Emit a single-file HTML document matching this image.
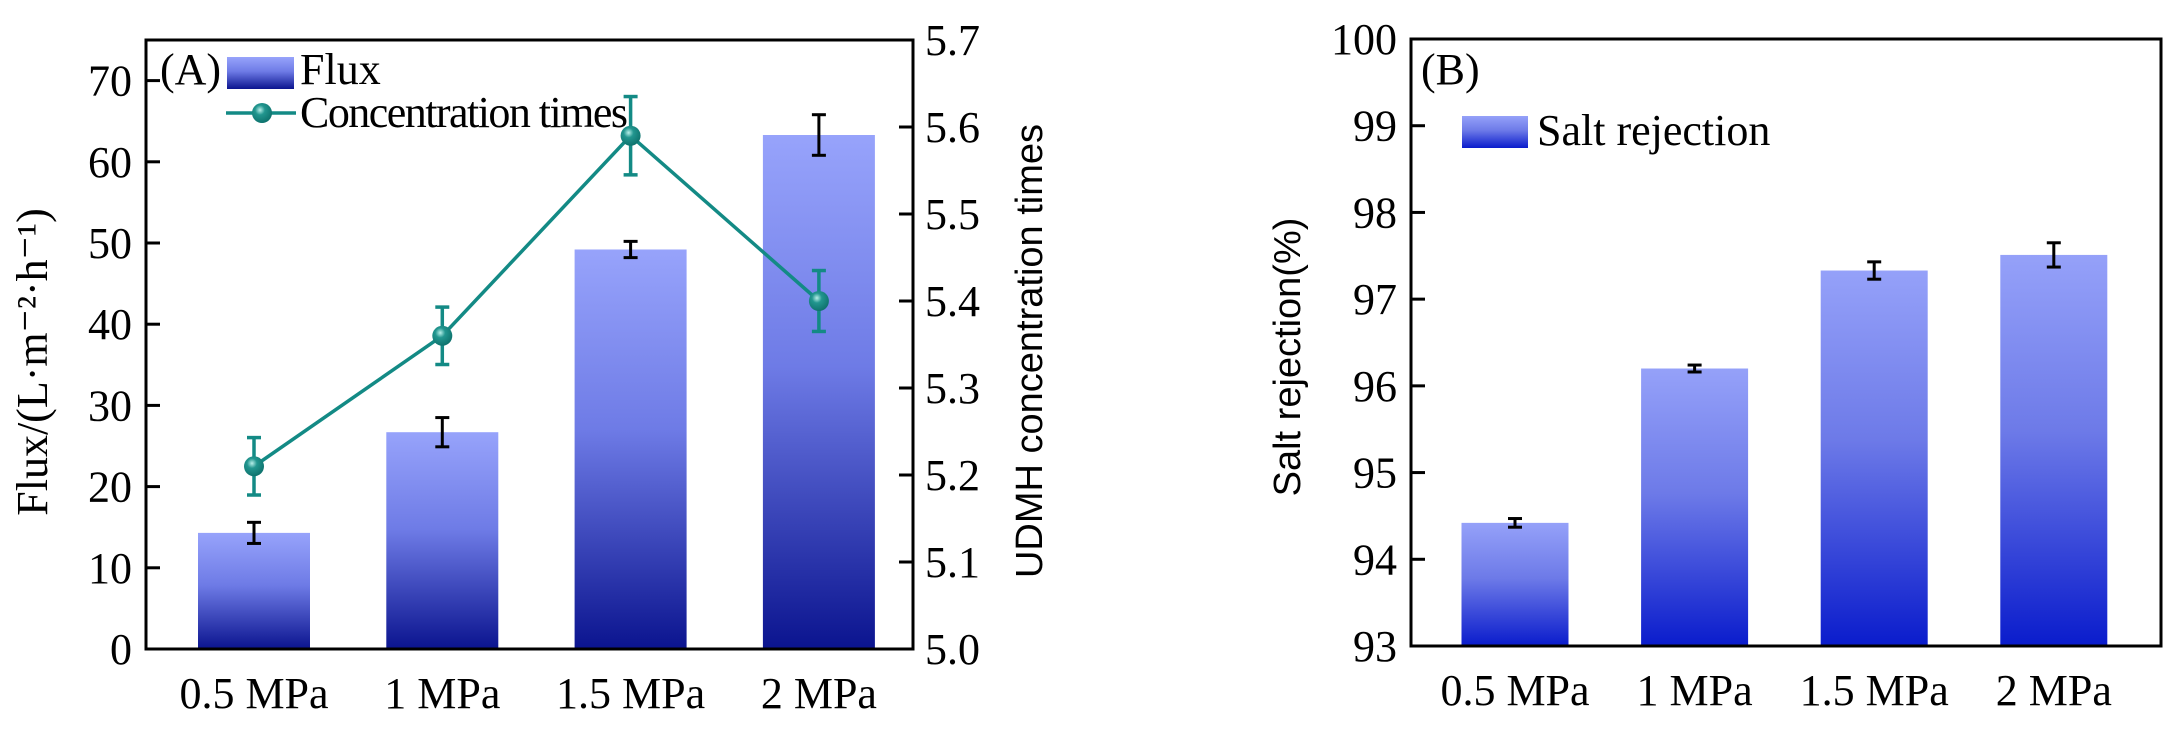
<!DOCTYPE html>
<html><head><meta charset="utf-8"><style>
html,body{margin:0;padding:0;background:#fff;}
svg{display:block;font-family:"Liberation Serif",serif;}
</style></head><body>
<svg id="chart" width="2180" height="740" viewBox="0 0 2180 740" xmlns="http://www.w3.org/2000/svg">
<defs>
<linearGradient id="gA" x1="0" y1="0" x2="0" y2="1"><stop offset="0" stop-color="#97a3fb"/><stop offset="0.45" stop-color="#6e7be6"/><stop offset="1" stop-color="#0b148f"/></linearGradient>
<linearGradient id="gB" x1="0" y1="0" x2="0" y2="1"><stop offset="0" stop-color="#95a1f9"/><stop offset="0.45" stop-color="#6d7ae8"/><stop offset="1" stop-color="#0a1ccc"/></linearGradient>
<radialGradient id="ball" cx="0.4" cy="0.35" r="0.7"><stop offset="0" stop-color="#b8efe9"/><stop offset="0.35" stop-color="#22968f"/><stop offset="1" stop-color="#0c6f6a"/></radialGradient>
</defs>
<g id="panelA"></g>
<g id="panelB"></g>
</svg>
<script>
const categories = ["0.5 MPa","1 MPa","1.5 MPa","2 MPa"];
const fluxValues = [14.3, 26.7, 49.2, 63.3];
const fluxErrors = [1.3, 1.8, 1.0, 2.5];
const concValues = [5.21, 5.36, 5.59, 5.40];
const concErrors = [0.033, 0.033, 0.045, 0.035];
const fluxTicks = [0,10,20,30,40,50,60,70];
const concTicks = ["5.0","5.1","5.2","5.3","5.4","5.5","5.6","5.7"];
const saltValues = [94.42, 96.20, 97.33, 97.51];
const saltErrors = [0.05, 0.04, 0.10, 0.14];
const saltTicks = [93,94,95,96,97,98,99,100];

const NS="http://www.w3.org/2000/svg";
function mk(parent,tag,attrs,text){const e=document.createElementNS(NS,tag);for(const k in attrs)e.setAttribute(k,attrs[k]);if(text!==undefined)e.textContent=text;parent.appendChild(e);return e;}

// Panel A
const A=document.getElementById('panelA');
const aL=146,aR=913,aT=40,aB=649;
const yF=v=>aB-(v/75)*(aB-aT);
const yC=v=>aB-((v-5.0)/0.7)*(aB-aT);
const xA=i=>254+i*188.3;
const bwA=112;
categories.forEach((c,i)=>{
  const r=mk(A,'rect',{x:xA(i)-bwA/2,y:yF(fluxValues[i]),width:bwA,height:aB-yF(fluxValues[i]),fill:'url(#gA)'});
  
  
});
categories.forEach((c,i)=>{
  const g=mk(A,'g',{stroke:'#000','stroke-width':3});
  
  
  const x=xA(i),t=yF(fluxValues[i]+fluxErrors[i]),b=yF(fluxValues[i]-fluxErrors[i]);
  mk(g,'line',{x1:x,y1:t,x2:x,y2:b});
  mk(g,'line',{x1:x-7,y1:t,x2:x+7,y2:t});
  mk(g,'line',{x1:x-7,y1:b,x2:x+7,y2:b});
});
const pts=concValues.map((v,i)=>xA(i)+','+yC(v)).join(' ');
const ln=mk(A,'polyline',{points:pts,fill:'none',stroke:'#138a85','stroke-width':3.5});


concValues.forEach((v,i)=>{
  const g=mk(A,'g',{stroke:'#138a85','stroke-width':3.5});
  
  
  const x=xA(i),t=yC(v+concErrors[i]),b=yC(v-concErrors[i]);
  mk(g,'line',{x1:x,y1:t,x2:x,y2:b});
  mk(g,'line',{x1:x-7,y1:t,x2:x+7,y2:t});
  mk(g,'line',{x1:x-7,y1:b,x2:x+7,y2:b});
  mk(g,'circle',{cx:x,cy:yC(v),r:10,fill:'url(#ball)',stroke:'none'});
});
const axA=mk(A,'rect',{x:aL,y:aT,width:aR-aL,height:aB-aT,fill:'none',stroke:'#000','stroke-width':3});


fluxTicks.forEach(t=>{
  mk(A,'line',{x1:aL,y1:yF(t),x2:aL+14,y2:yF(t),stroke:'#000','stroke-width':3});
  const e=mk(A,'text',{x:aL-14,y:yF(t)+15,'text-anchor':'end','font-size':44},String(t));
  
  
});
concTicks.forEach(t=>{
  const y=yC(parseFloat(t));
  mk(A,'line',{x1:aR-14,y1:y,x2:aR,y2:y,stroke:'#000','stroke-width':3});
  const e=mk(A,'text',{x:aR+12,y:y+15,'font-size':44},t);
  
  
});
categories.forEach((c,i)=>{
  const e=mk(A,'text',{x:xA(i),y:708,'text-anchor':'middle','font-size':44},c);
  
  
});
const lt=mk(A,'text',{transform:'translate(47,362) rotate(-90)','text-anchor':'middle','font-size':44},'Flux/(L·m⁻²·h⁻¹)');


const rt=mk(A,'text',{transform:'translate(1042,351) rotate(-90)','text-anchor':'middle','font-size':38,'font-family':'Liberation Sans, sans-serif'},'UDMH concentration times');


const la=mk(A,'text',{x:160,y:84,'font-size':44},'(A)');


const lg1=mk(A,'rect',{x:227,y:57,width:67,height:32,fill:'url(#gA)'});


const lt1=mk(A,'text',{x:300,y:84,'font-size':44},'Flux');


mk(A,'line',{x1:226,y1:113,x2:296,y2:113,stroke:'#138a85','stroke-width':3.5});
const lg2=mk(A,'circle',{cx:262,cy:113,r:10,fill:'url(#ball)'});


const lt2=mk(A,'text',{x:300,y:127,'font-size':44,textLength:328},'Concentration times');



// Panel B
const B=document.getElementById('panelB');
const bL=1411,bR=2161,bT=39,bB=646;
const yS=v=>bB-((v-93)/7)*(bB-bT);
const xB=i=>1515+i*179.6;
const bwB=107;
categories.forEach((c,i)=>{
  const r=mk(B,'rect',{x:xB(i)-bwB/2,y:yS(saltValues[i]),width:bwB,height:bB-yS(saltValues[i]),fill:'url(#gB)'});
  
  
});
categories.forEach((c,i)=>{
  const g=mk(B,'g',{stroke:'#000','stroke-width':3});
  
  
  const x=xB(i),t=yS(saltValues[i]+saltErrors[i]),b=yS(saltValues[i]-saltErrors[i]);
  mk(g,'line',{x1:x,y1:t,x2:x,y2:b});
  mk(g,'line',{x1:x-7,y1:t,x2:x+7,y2:t});
  mk(g,'line',{x1:x-7,y1:b,x2:x+7,y2:b});
});
const axB=mk(B,'rect',{x:bL,y:bT,width:bR-bL,height:bB-bT,fill:'none',stroke:'#000','stroke-width':3});


saltTicks.forEach(t=>{
  mk(B,'line',{x1:bL,y1:yS(t),x2:bL+14,y2:yS(t),stroke:'#000','stroke-width':3});
  const e=mk(B,'text',{x:bL-14,y:yS(t)+15,'text-anchor':'end','font-size':44},String(t));
  
  
});
categories.forEach((c,i)=>{
  const e=mk(B,'text',{x:xB(i),y:705,'text-anchor':'middle','font-size':44},c);
  
  
});
const bt=mk(B,'text',{transform:'translate(1300,357) rotate(-90)','text-anchor':'middle','font-size':38,'font-family':'Liberation Sans, sans-serif'},'Salt rejection(%)');


const lb=mk(B,'text',{x:1421,y:84,'font-size':44},'(B)');


const lg3=mk(B,'rect',{x:1462,y:116,width:66,height:32,fill:'url(#gB)'});


const lt3=mk(B,'text',{x:1537,y:145,'font-size':44},'Salt rejection');


</script>
</body></html>
